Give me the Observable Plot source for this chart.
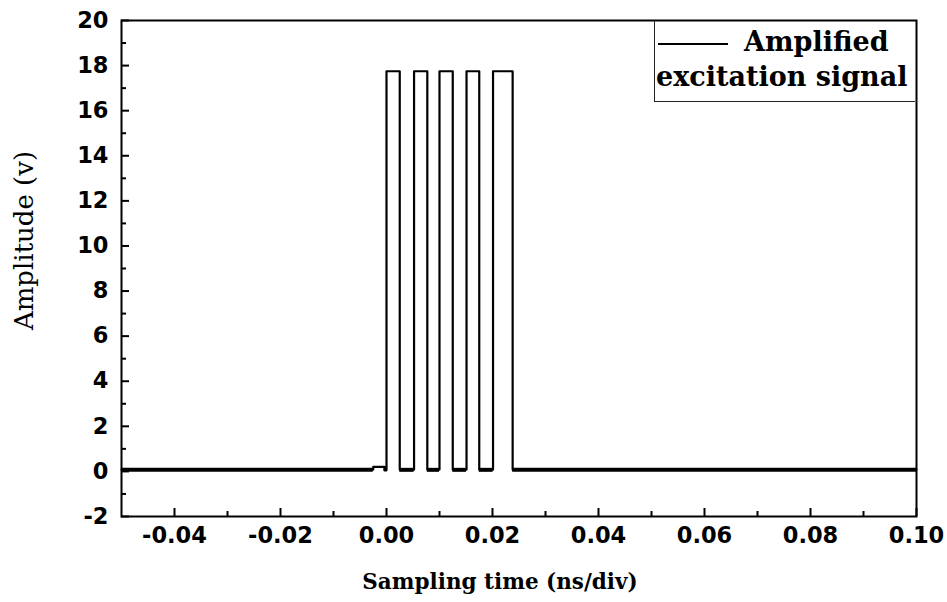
<!DOCTYPE html>
<html>
<head>
<meta charset="utf-8">
<script src="https://cdn.jsdelivr.net/npm/d3@7"></script>
<script src="https://cdn.jsdelivr.net/npm/@observablehq/plot@0.6"></script>
<style>
  html, body { margin: 0; padding: 0; background: #fff; }
  #wrap { position: relative; width: 947px; height: 602px; }
  #legend { position: absolute; left: 654px; top: 20px; width: 261px; height: 82px;
            border: 1.5px solid #222; border-top: none; border-right: none; box-sizing: border-box;
            font-family: "DejaVu Serif", serif; font-weight: bold; font-size: 27px; line-height: 1; color: #000; }
  #legend .ln { position: absolute; left: 3px; top: 23px; width: 70px; height: 0; border-top: 2px solid #000; }
  #legend .t1 { position: absolute; left: 89px; top: 8px; white-space: nowrap; }
  #legend .t2 { position: absolute; left: 1px; top: 43px; white-space: nowrap; }
</style>
</head>
<body>
<div id="wrap"><div id="chart"></div>
  <div id="legend"><div class="ln"></div><div class="t1">Amplified</div><div class="t2">excitation signal</div></div>
</div>
<script>
// Signal breakpoints (step-after): time (ns/div) and amplitude (v)
const times = [-0.05, -0.0025, -0.0004, 0.0000, 0.0025, 0.0052, 0.0077, 0.0100, 0.0125, 0.0151, 0.0175, 0.0201, 0.0238, 0.1];
const amps  = [0.08, 0.2, 0.05, 17.75, 0.08, 17.75, 0.08, 17.75, 0.08, 17.75, 0.08, 17.75, 0.08, 0.08];
// Noisy low-level segments (thick baseline)
const lowStart = [-0.05, 0.0025, 0.0077, 0.0125, 0.0175, 0.0238];
const lowEnd   = [-0.0025, 0.0052, 0.0100, 0.0151, 0.0201, 0.1];
const lowLevel = 0.07;
// Axes
const xMajor = [-0.04, -0.02, 0.00, 0.02, 0.04, 0.06, 0.08, 0.10];
const xMinor = [-0.03, -0.01, 0.01, 0.03, 0.05, 0.07, 0.09];
const yMajor = [-2, 0, 2, 4, 6, 8, 10, 12, 14, 16, 18, 20];
const yMinor = [-1, 1, 3, 5, 7, 9, 11, 13, 15, 17, 19];
const xLabel = "Sampling time (ns/div)";
const yLabel = "Amplitude (v)";

const signal = times.map((t, i) => ({t, v: amps[i]}));
const lows = lowStart.map((s, i) => ({s, e: lowEnd[i]}));

const W = 947, H = 602, mL = 121, mR = 31, mT = 20, mB = 86;
const pw = W - mL - mR, ph = H - mT - mB;
const tickFont = {fontFamily: "DejaVu Sans, sans-serif", fontWeight: "bold", fontSize: 22.5};

const chart = Plot.plot({
  width: W, height: H,
  marginLeft: mL, marginRight: mR, marginTop: mT, marginBottom: mB,
  style: {background: "#fff", color: "#000", overflow: "visible"},
  x: {domain: [-0.05, 0.10]},
  y: {domain: [-2, 20]},
  marks: [
    Plot.ruleY(lows, {x1: "s", x2: "e", y: () => lowLevel, stroke: "#000", strokeWidth: 4}),
    Plot.line(signal, {x: "t", y: "v", curve: "step-after", stroke: "#000", strokeWidth: 2.2}),
    Plot.tickX(xMajor, {x: d => d, stroke: "#000", strokeWidth: 2, insetTop: ph - 8}),
    Plot.tickX(xMinor, {x: d => d, stroke: "#000", strokeWidth: 2, insetTop: ph - 5}),
    Plot.tickY(yMajor, {y: d => d, stroke: "#000", strokeWidth: 2, insetRight: pw - 8}),
    Plot.tickY(yMinor, {y: d => d, stroke: "#000", strokeWidth: 2, insetRight: pw - 5}),
    Plot.axisX({ticks: xMajor, tickSize: 0, tickPadding: 11, tickFormat: d => d.toFixed(2), label: null, ...tickFont}),
    Plot.axisY({ticks: yMajor, tickSize: 0, tickPadding: 13, tickFormat: d => String(d), label: null, ...tickFont}),
    Plot.frame({stroke: "#000", strokeWidth: 2}),
    Plot.text([xLabel], {text: d => d, frameAnchor: "bottom", textAnchor: "middle", dx: -19, dy: 72, fontFamily: "DejaVu Serif, serif", fontWeight: "bold", fontSize: 21.5, fill: "#000"}),
    Plot.text([yLabel], {text: d => d, frameAnchor: "left", textAnchor: "middle", rotate: -90, dx: -97, dy: -28, fontFamily: "DejaVu Serif, serif", fontSize: 26, fill: "#000"})
  ]
});
document.getElementById("chart").appendChild(chart);
</script>
</body>
</html>
